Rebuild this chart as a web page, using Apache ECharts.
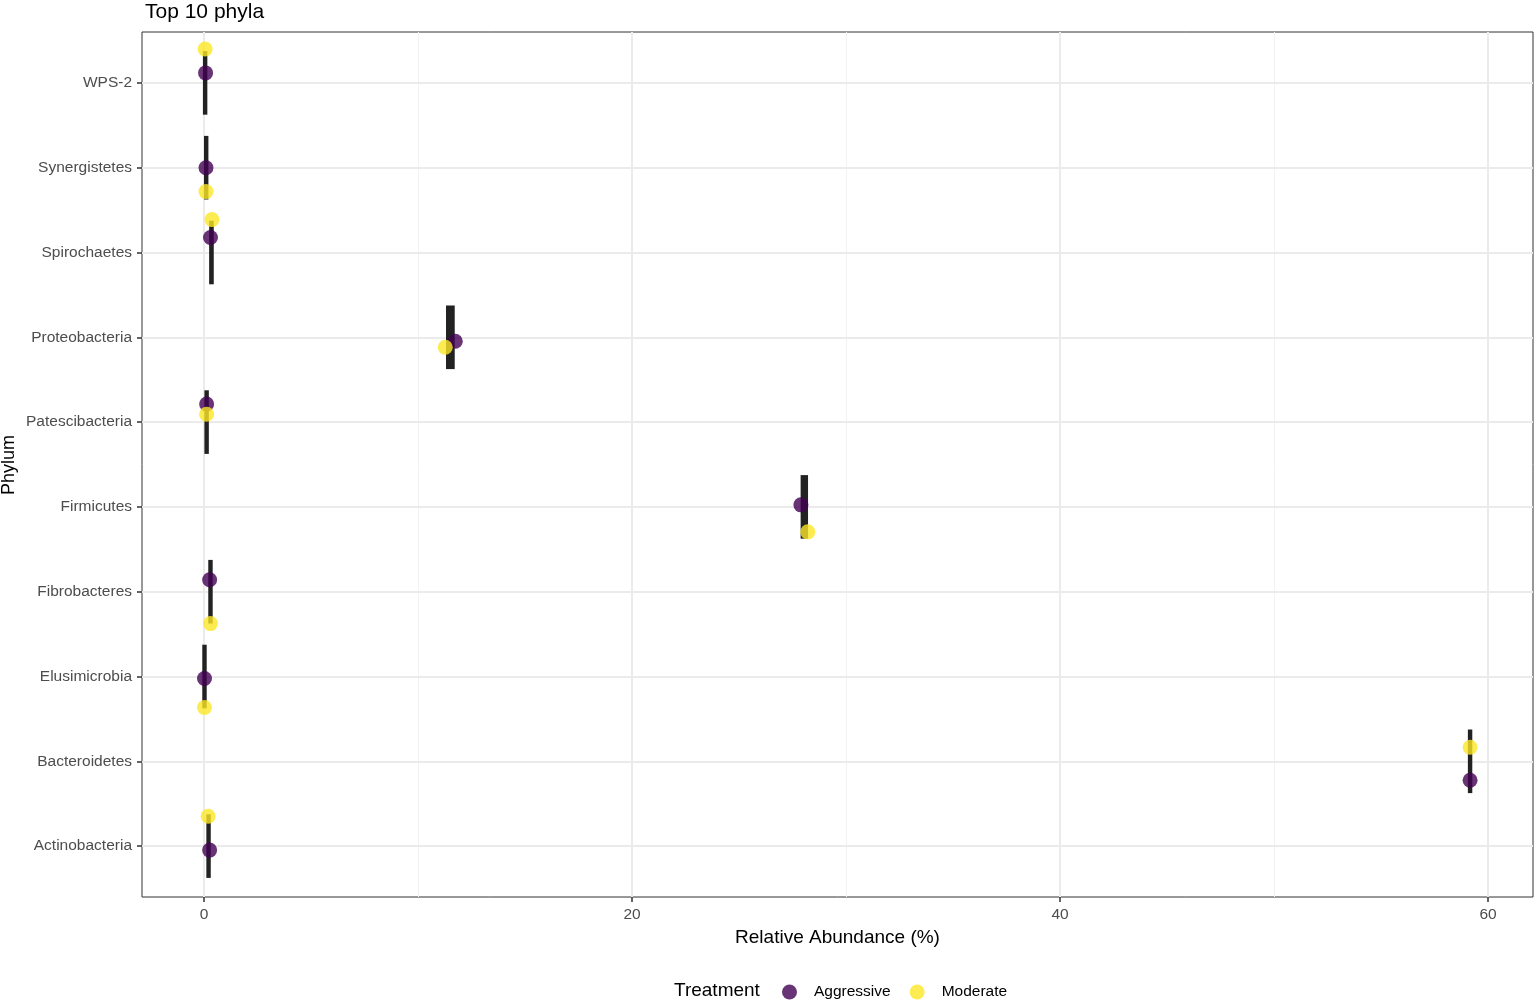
<!DOCTYPE html>
<html>
<head>
<meta charset="utf-8">
<script src="https://cdn.jsdelivr.net/npm/echarts@6/dist/echarts.min.js"></script>
<style>
  html, body { margin: 0; padding: 0; background: #fff; }
  #main { width: 1535px; height: 1000px; }
</style>
</head>
<body>
<div id="main"></div>
<script>
// phyla, bottom (1) to top (10)
var phyla = ['Actinobacteria', 'Bacteroidetes', 'Elusimicrobia', 'Fibrobacteres', 'Firmicutes',
  'Patescibacteria', 'Proteobacteria', 'Spirochaetes', 'Synergistetes', 'WPS-2'];

// relative abundance (%) per treatment
var aggressive = [0.26, 59.16, 0.02, 0.26, 27.89, 0.12, 11.74, 0.30, 0.09, 0.07];
var moderate = [0.19, 59.16, 0.02, 0.30, 28.21, 0.12, 11.27, 0.37, 0.09, 0.05];

// vertical jitter of the points (in category units)
var aggJitter = [-0.047, -0.224, -0.024, 0.141, 0.024, 0.212, -0.047, 0.176, 0.0, 0.118];
var modJitter = [0.353, 0.165, -0.365, -0.376, -0.294, 0.094, -0.118, 0.388, -0.282, 0.4];

// box (Q1 - Q3) per phylum
var boxLow = [0.20, 59.15, 0.01, 0.29, 27.97, 0.11, 11.40, 0.33, 0.09, 0.04];
var boxHigh = [0.22, 59.17, 0.03, 0.31, 28.13, 0.13, 11.62, 0.36, 0.11, 0.06];

var xMajor = [0, 20, 40, 60];
var xMinor = [10, 30, 50];

var cats = phyla.map(function (p, i) { return i + 1; });

function toPoints(vals, jit) {
  return vals.map(function (v, i) { return [v, i + 1 + jit[i]]; });
}

var boxData = phyla.map(function (p, i) { return [boxLow[i], boxHigh[i], i + 1]; });

var gridLines = [];
xMinor.forEach(function (v) {
  gridLines.push({ xAxis: v, lineStyle: { color: '#f2f2f2', width: 1, type: 'solid' } });
});
xMajor.forEach(function (v) {
  gridLines.push({ xAxis: v, lineStyle: { color: '#ebebeb', width: 2, type: 'solid' } });
});
cats.forEach(function (v) {
  gridLines.push({ yAxis: v, lineStyle: { color: '#ebebeb', width: 2, type: 'solid' } });
});

var chart = echarts.init(document.getElementById('main'), null, { renderer: 'canvas' });

var font = 'Liberation Sans, Arial, sans-serif';

var option = {
  animation: false,
  backgroundColor: '#ffffff',
  textStyle: { fontFamily: font },
  title: [
    { text: 'Top 10 phyla', left: 140, top: -3,
      textStyle: { fontSize: 21, fontWeight: 'normal', color: '#000', fontFamily: font } },
    { text: 'Treatment', left: 669, top: 976,
      textStyle: { fontSize: 19, fontWeight: 'normal', color: '#000', fontFamily: font } }
  ],
  graphic: [
    {
      type: 'text', x: 9, y: 465, rotation: Math.PI / 2,
      style: { text: 'Phylum', fontSize: 18, fill: '#000', fontFamily: font, align: 'center', verticalAlign: 'middle' }
    }
  ],
  legend: {
    left: 777, top: 979,
    itemWidth: 15, itemHeight: 15, itemGap: 19,
    icon: 'circle',
    textStyle: { fontSize: 15.5, color: '#000', fontFamily: font, padding: [0, 0, 0, 12] },
    data: [
      { name: 'Aggressive', itemStyle: { color: '#440154', opacity: 0.8 } },
      { name: 'Moderate', itemStyle: { color: '#FDE725', opacity: 0.8 } }
    ]
  },
  grid: {
    left: 142, top: 32, right: 2, bottom: 103,
    outerBoundsMode: 'none', containLabel: false,
    show: true, borderColor: '#333', borderWidth: 1, backgroundColor: 'transparent'
  },
  xAxis: {
    type: 'value', min: -2.9, max: 62.1,
    name: 'Relative Abundance (%)', nameLocation: 'middle', nameGap: 30,
    nameTextStyle: { fontSize: 19, color: '#000', fontFamily: font },
    axisLine: { show: false, onZero: false },
    axisTick: { show: true, length: 5, customValues: xMajor, lineStyle: { color: '#333', width: 1.5 } },
    axisLabel: { customValues: xMajor, fontSize: 15.5, color: '#4d4d4d', margin: 10, fontFamily: font },
    splitLine: { show: false }
  },
  yAxis: {
    type: 'value', min: 0.4, max: 10.6,
    axisLine: { show: false, onZero: false },
    axisTick: { show: true, length: 5, customValues: cats, lineStyle: { color: '#333', width: 1.5 } },
    axisLabel: {
      customValues: cats, fontSize: 15.5, color: '#4d4d4d', margin: 10, fontFamily: font,
      formatter: function (v) { return phyla[Math.round(v) - 1] || ''; }
    },
    splitLine: { show: false }
  },
  series: [
    {
      type: 'line', name: 'grid', data: [], silent: true, z: 0,
      markLine: { silent: true, z: 0, symbol: 'none', label: { show: false }, animation: false, data: gridLines }
    },
    {
      type: 'custom', name: 'box', z: 2, silent: true,
      data: boxData,
      renderItem: function (params, api) {
        var p1 = api.coord([api.value(0), api.value(2) + 0.375]);
        var p2 = api.coord([api.value(1), api.value(2) - 0.375]);
        return {
          type: 'rect',
          shape: { x: p1[0] - 2, y: p1[1], width: p2[0] - p1[0] + 4, height: p2[1] - p1[1] },
          style: { fill: '#222222' }
        };
      }
    },
    {
      type: 'scatter', name: 'Aggressive', z: 3,
      symbolSize: 15,
      itemStyle: { color: '#440154', opacity: 0.8 },
      data: toPoints(aggressive, aggJitter)
    },
    {
      type: 'scatter', name: 'Moderate', z: 3,
      symbolSize: 15,
      itemStyle: { color: '#FDE725', opacity: 0.8 },
      data: toPoints(moderate, modJitter)
    }
  ]
};

chart.setOption(option);
</script>
</body>
</html>
